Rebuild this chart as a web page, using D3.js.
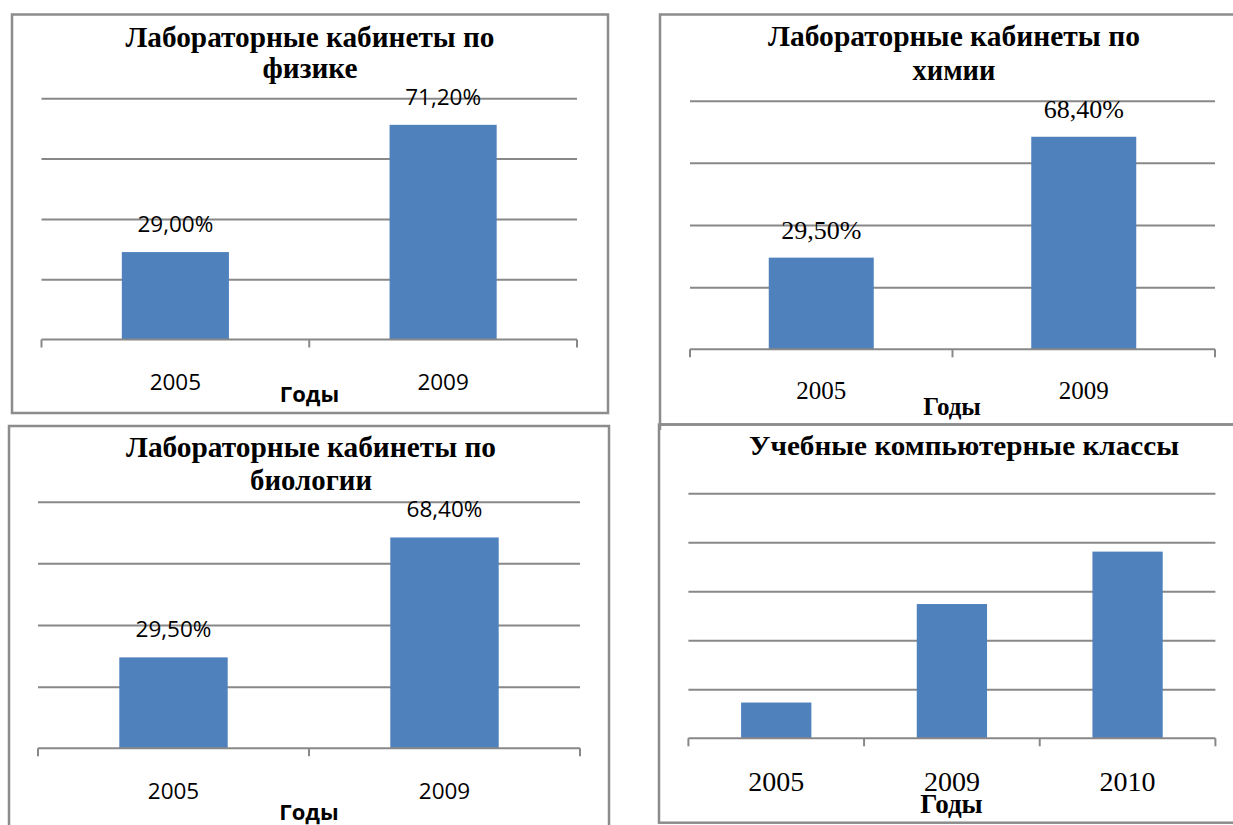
<!DOCTYPE html>
<html>
<head>
<meta charset="utf-8">
<script src="https://cdn.jsdelivr.net/npm/d3@7"></script>
<style>
  html, body { margin: 0; padding: 0; background: #fff; }
  svg { display: block; }
</style>
</head>
<body>
<svg id="chart" width="1233" height="825"></svg>
<script>
// ---- Data ----
const physicsYears = ["2005", "2009"];
const physicsValues = [29.0, 71.2];
const chemistryYears = ["2005", "2009"];
const chemistryValues = [29.5, 68.4];
const biologyYears = ["2005", "2009"];
const biologyValues = [29.5, 68.4];
const computerYears = ["2005", "2009", "2010"];
const computerValues = [7.3, 27.4, 38.1];

const physicsTitle = ["Лабораторные кабинеты по", "физике"];
const chemistryTitle = ["Лабораторные кабинеты по", "химии"];
const biologyTitle = ["Лабораторные кабинеты по", "биологии"];
const computerTitle = ["Учебные компьютерные классы"];
const axisTitle = "Годы";

// ---- Formatting ----
const ru = d3.formatLocale({decimal: ",", thousands: " ", grouping: [3], currency: ["", ""]});
const pct = v => ru.format(".2f")(v) + "%";

const BAR = "#4F81BD";
const GRID = "#888888";
const BORDER = "#8c8c8c";
const SERIF = "'Liberation Serif', 'Times New Roman', serif";
const SANS = "'Open Sans', 'Noto Sans', sans-serif";

const svg = d3.select("#chart");

// ---- Panel layouts ----
const panels = [
  {
    years: physicsYears, values: physicsValues, title: physicsTitle, showLabels: true,
    border: {x0: 12, y0: 14.5, x1: 608, y1: 413},
    plot: {x0: 41.5, x1: 577, yTop: 98.3, yBase: 339.5}, max: 80, gridStep: 20,
    titleCx: 310, titleY: [46.7, 78], titleW: [369, 95], titleSize: 29,
    labelFont: SANS, labelSize: 22.5, catY: 390, axisY: 402, axisCx: 309.5, axisSize: 22, dataSize: 22.5, dataGap: 20
  },
  {
    years: chemistryYears, values: chemistryValues, title: chemistryTitle, showLabels: true,
    border: {x0: 660, y0: 14.5, x1: 1240, y1: 424.5, extendLeft: 430},
    plot: {x0: 690, x1: 1215, yTop: 100.7, yBase: 349.3}, max: 80, gridStep: 20,
    titleCx: 954, titleY: [46, 80], titleW: [372, 83], titleSize: 29,
    labelFont: SERIF, labelSize: 25, catY: 399, axisY: 415, axisCx: 952, axisSize: 25, dataSize: 26, dataGap: 19
  },
  {
    years: biologyYears, values: biologyValues, title: biologyTitle, showLabels: true,
    border: {x0: 9, y0: 426, x1: 609, y1: 840},
    plot: {x0: 38, x1: 580, yTop: 501.7, yBase: 748.3}, max: 80, gridStep: 20,
    titleCx: 311, titleY: [456.7, 490], titleW: [370, 122], titleSize: 29,
    labelFont: SANS, labelSize: 22.5, catY: 799, axisY: 820, axisCx: 309, axisSize: 22, dataSize: 22.5, dataGap: 20
  },
  {
    years: computerYears, values: computerValues, title: computerTitle, showLabels: false,
    border: {x0: 659, y0: 424.5, x1: 1240, y1: 822.7},
    plot: {x0: 688.4, x1: 1215.4, yTop: 493.3, yBase: 738.3}, max: 50, gridStep: 10,
    titleCx: 964, titleY: [455], titleW: [430], titleSize: 27,
    labelFont: SERIF, labelSize: 28, catY: 790.7, axisY: 813, axisCx: 951.5, axisSize: 27, dataSize: 25, dataGap: 19
  }
];

panels.forEach(p => {
  const g = svg.append("g");

  // Border
  const b = p.border;
  g.append("rect")
    .attr("x", b.x0).attr("y", b.y0)
    .attr("width", b.x1 - b.x0).attr("height", b.y1 - b.y0)
    .attr("fill", "none").attr("stroke", BORDER).attr("stroke-width", 2.5);
  if (b.extendLeft) {
    g.append("line").attr("x1", b.x0).attr("x2", b.x0).attr("y1", b.y1).attr("y2", b.extendLeft)
      .attr("stroke", BORDER).attr("stroke-width", 2.5);
  }

  const x = d3.scaleBand().domain(p.years).range([p.plot.x0, p.plot.x1])
    .paddingInner(0.6).paddingOuter(0.3);
  const y = d3.scaleLinear().domain([0, p.max]).range([p.plot.yBase, p.plot.yTop]);

  // Gridlines via axis
  const gridTicks = d3.range(p.gridStep, p.max + 0.001, p.gridStep);
  const grid = g.append("g")
    .attr("transform", `translate(${p.plot.x0},0)`)
    .call(d3.axisRight(y).tickValues(gridTicks).tickSize(p.plot.x1 - p.plot.x0).tickFormat(""));
  grid.select(".domain").remove();
  grid.selectAll(".tick line").attr("stroke", GRID).attr("stroke-width", 2);

  // Bars
  g.selectAll("rect.bar").data(p.values).join("rect")
    .attr("class", "bar")
    .attr("x", (d, i) => x(p.years[i]))
    .attr("width", x.bandwidth())
    .attr("y", d => y(d))
    .attr("height", d => y(0) - y(d))
    .attr("fill", BAR);

  // Category axis baseline and tick marks (at band boundaries)
  const step = x.step();
  const bounds = d3.range(p.years.length + 1).map(i => p.plot.x0 + i * step);
  g.append("line")
    .attr("x1", p.plot.x0).attr("x2", p.plot.x1)
    .attr("y1", y(0)).attr("y2", y(0))
    .attr("stroke", GRID).attr("stroke-width", 2);
  g.selectAll("line.tk").data(bounds).join("line")
    .attr("class", "tk")
    .attr("x1", d => d).attr("x2", d => d)
    .attr("y1", y(0)).attr("y2", y(0) + 8)
    .attr("stroke", GRID).attr("stroke-width", 2);

  // Category labels
  g.selectAll("text.cat").data(p.years).join("text")
    .attr("class", "cat")
    .attr("x", d => x(d) + x.bandwidth() / 2)
    .attr("y", p.catY)
    .attr("text-anchor", "middle")
    .attr("font-family", p.labelFont)
    .attr("font-size", p.labelSize)
    .attr("fill", "#000")
    .text(d => d);

  // Axis title
  g.append("text")
    .attr("x", p.axisCx).attr("y", p.axisY)
    .attr("text-anchor", "middle")
    .attr("font-family", p.labelFont)
    .attr("font-weight", "bold")
    .attr("font-size", p.axisSize)
    .attr("fill", "#000")
    .text(axisTitle);

  // Data labels
  if (p.showLabels) {
    g.selectAll("text.val").data(p.values).join("text")
      .attr("class", "val")
      .attr("x", (d, i) => x(p.years[i]) + x.bandwidth() / 2)
      .attr("y", d => y(d) - p.dataGap)
      .attr("text-anchor", "middle")
      .attr("font-family", p.labelFont)
      .attr("font-size", p.dataSize)
      .attr("fill", "#000")
      .text(d => pct(d));
  }

  // Title
  p.title.forEach((line, i) => {
    g.append("text")
      .attr("x", p.titleCx).attr("y", p.titleY[i])
      .attr("text-anchor", "middle")
      .attr("font-family", SERIF)
      .attr("font-weight", "bold")
      .attr("font-size", p.titleSize)
      .attr("textLength", p.titleW[i])
      .attr("lengthAdjust", "spacingAndGlyphs")
      .attr("fill", "#000")
      .text(line);
  });
});
</script>
</body>
</html>
